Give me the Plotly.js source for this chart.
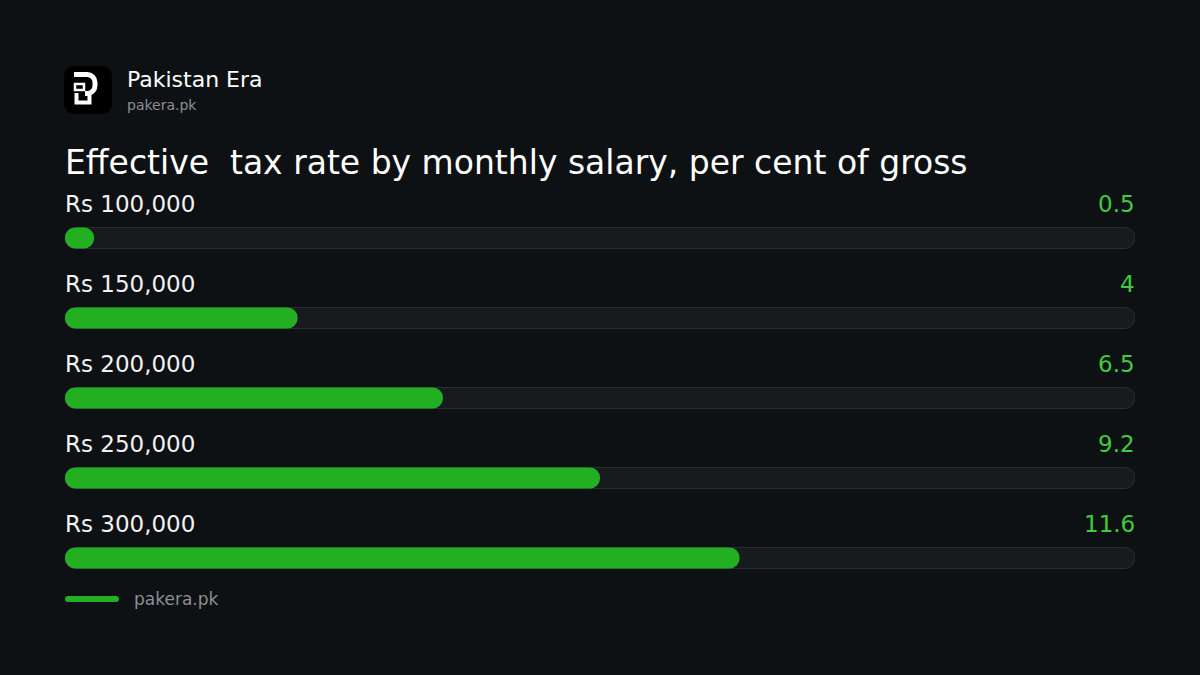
<!DOCTYPE html>
<html>
<head>
<meta charset="utf-8">
<script src="https://cdn.plot.ly/plotly-3.0.1.min.js"></script>
<style>
html,body{margin:0;padding:0;background:#0e1114;}
#chart{width:1200px;height:675px;}
</style>
</head>
<body>
<div id="chart"></div>
<script>
// ---- data ----
const salaryLabels = ["Rs 100,000", "Rs 150,000", "Rs 200,000", "Rs 250,000", "Rs 300,000"];
const taxRates = [0.5, 4, 6.5, 9.2, 11.6];
const valueLabels = ["0.5", "4", "6.5", "9.2", "11.6"];
const axisMax = 18.4;

const chartTitle = "Effective  tax rate by monthly salary, per cent of gross";
const brandName = "Pakistan Era";
const brandSite = "pakera.pk";
const sourceText = "pakera.pk";

// ---- layout geometry ----
const W = 1200, H = 675;
const mL = 65, mR = 65, mT = 158, mB = 37;
const plotW = W - mL - mR, plotH = H - mT - mB;
const px = x => (x - mL) / plotW;
const py = y => (H - mB - y) / plotH;

const idx = salaryLabels.map((_, i) => i);
const FONT = "'DejaVu Sans', sans-serif";
const BAR_W = 0.2625;

const track = {
  type: "bar", orientation: "h",
  y: idx, base: idx.map(() => 0), x: idx.map(() => axisMax),
  width: BAR_W,
  marker: {color: "#171b1e", line: {color: "#2a2e32", width: 1}, cornerradius: 11},
  hoverinfo: "skip", showlegend: false
};
const bars = {
  type: "bar", orientation: "h",
  y: idx, base: idx.map(() => 0), x: taxRates,
  width: BAR_W,
  marker: {color: "#22b022", line: {width: 0}, cornerradius: 11},
  hoverinfo: "skip", showlegend: false
};

const annotations = [];
salaryLabels.forEach((lab, i) => {
  annotations.push({
    text: lab, x: 0, y: i, xref: "x", yref: "y",
    xanchor: "left", yanchor: "middle", yshift: 34, xshift: -2,
    showarrow: false, font: {family: FONT, size: 23, color: "#f2f2f2"}
  });
  annotations.push({
    text: valueLabels[i], x: 1, y: i, xref: "paper", yref: "y",
    xanchor: "right", yanchor: "middle", yshift: 34, xshift: 2,
    showarrow: false, font: {family: FONT, size: 23, color: "#3fcc3f"}
  });
});
annotations.push({
  text: chartTitle, x: px(63), y: py(162), xref: "paper", yref: "paper",
  xanchor: "left", yanchor: "middle", showarrow: false,
  font: {family: FONT, size: 33, color: "#ffffff"}
});
annotations.push({
  text: brandName, x: px(125), y: py(80), xref: "paper", yref: "paper",
  xanchor: "left", yanchor: "middle", showarrow: false,
  font: {family: FONT, size: 22, color: "#ffffff"}
});
annotations.push({
  text: brandSite, x: px(125), y: py(105), xref: "paper", yref: "paper",
  xanchor: "left", yanchor: "middle", showarrow: false,
  font: {family: FONT, size: 14, color: "#8a8f93"}
});
annotations.push({
  text: sourceText, x: px(132), y: py(599), xref: "paper", yref: "paper",
  xanchor: "left", yanchor: "middle", showarrow: false,
  font: {family: FONT, size: 17, color: "#8a8f93"}
});

const logoSvg =
  '<svg xmlns="http://www.w3.org/2000/svg" width="48" height="48" viewBox="0 0 48 48">' +
  '<rect x="0" y="0" width="48" height="48" rx="10" fill="#000"/>' +
  '<rect x="10" y="6" width="14" height="5" fill="#fff"/>' +
  '<path d="M22 8.5 H23 A8 8 0 0 1 31 16.5 V19.5 A8 8 0 0 1 23 27.5 H21" stroke="#fff" stroke-width="5" fill="none"/>' +
  '<rect x="11" y="18" width="9" height="6" stroke="#fff" stroke-width="2.5" fill="#000"/>' +
  '<path d="M12.5 27 V36.5 H25.5 V29" stroke="#fff" stroke-width="4" fill="none"/>' +
  '</svg>';

// rounded footer key line (pixel coords -> paper)
const P = (x, y) => px(x) + "," + py(y);
const keyPath =
  "M" + P(68, 596) + " L" + P(116, 596) +
  " Q" + P(119, 596) + " " + P(119, 599) +
  " Q" + P(119, 602) + " " + P(116, 602) +
  " L" + P(68, 602) +
  " Q" + P(65, 602) + " " + P(65, 599) +
  " Q" + P(65, 596) + " " + P(68, 596) + " Z";

const layout = {
  width: W, height: H,
  paper_bgcolor: "#0e1114", plot_bgcolor: "rgba(0,0,0,0)",
  margin: {l: mL, r: mR, t: mT, b: mB, pad: 0},
  barmode: "overlay",
  xaxis: {range: [0, axisMax], visible: false, fixedrange: true},
  yaxis: {range: [salaryLabels.length, -1], visible: false, fixedrange: true},
  showlegend: false,
  annotations: annotations,
  shapes: [{
    type: "path", xref: "paper", yref: "paper", path: keyPath,
    fillcolor: "#22b022", line: {width: 0}
  }],
  images: [{
    source: "data:image/svg+xml;charset=utf-8," + encodeURIComponent(logoSvg),
    xref: "paper", yref: "paper",
    x: px(64), y: py(66), sizex: 48 / plotW, sizey: 48 / plotH,
    xanchor: "left", yanchor: "top", sizing: "stretch", layer: "above"
  }]
};

Plotly.newPlot("chart", [track, bars], layout, {displayModeBar: false, staticPlot: true});
</script>
</body>
</html>
